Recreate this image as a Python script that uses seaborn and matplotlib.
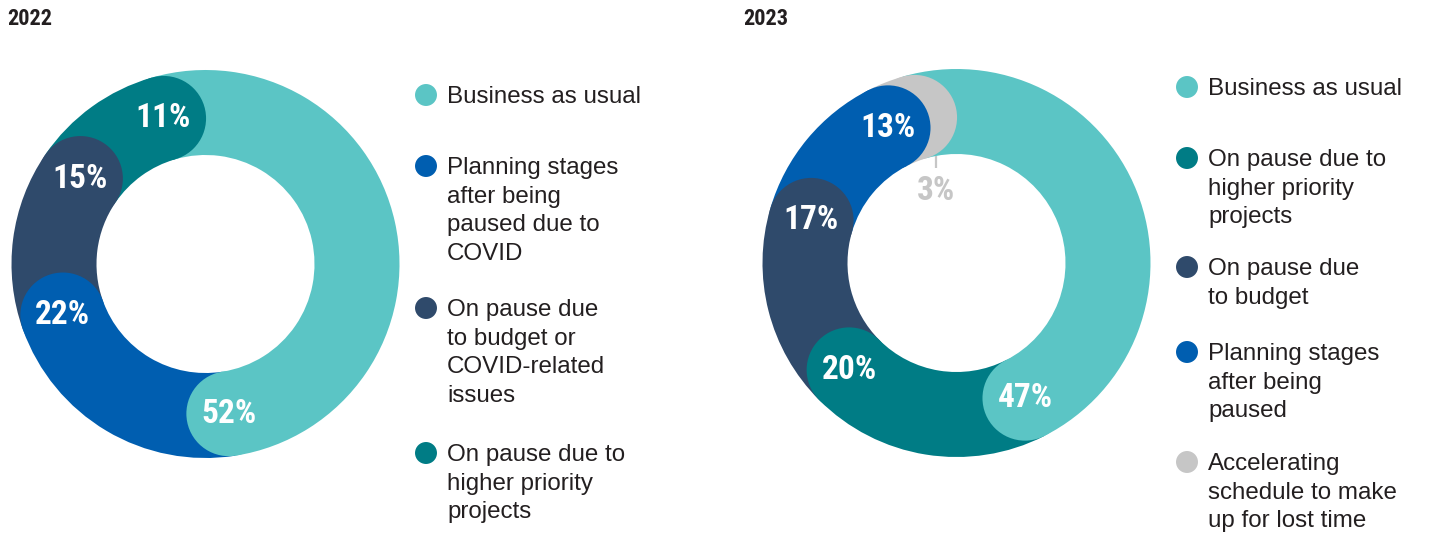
import numpy as np
import matplotlib
matplotlib.use("Agg")
import matplotlib.pyplot as plt
from matplotlib import font_manager as fm
from matplotlib.patches import Circle
import pandas as pd
import seaborn as sns

# ---- data -------------------------------------------------------------
years = ["2022", "2023"]

cats_2022 = [
    "Business as usual",
    "Planning stages\nafter being\npaused due to\nCOVID",
    "On pause due\nto budget or\nCOVID-related\nissues",
    "On pause due to\nhigher priority\nprojects",
]
vals_2022 = [52, 22, 15, 11]

cats_2023 = [
    "Business as usual",
    "On pause due to\nhigher priority\nprojects",
    "On pause due\nto budget",
    "Planning stages\nafter being\npaused",
    "Accelerating\nschedule to make\nup for lost time",
]
vals_2023 = [47, 20, 17, 13, 3]

# colour of each status
LIGHT_TEAL = "#5BC5C5"
BLUE = "#005EB0"
NAVY = "#2F4A6B"
DARK_TEAL = "#007C85"
GREY = "#C6C6C6"
colors_2022 = [LIGHT_TEAL, BLUE, NAVY, DARK_TEAL]
colors_2023 = [LIGHT_TEAL, DARK_TEAL, NAVY, BLUE, GREY]

# ---- style ------------------------------------------------------------
sns.set_theme(style="white")
plt.rcParams["font.family"] = ["Liberation Sans", "DejaVu Sans"]
TEXT_DARK = "#231F20"


def condensed_bold():
    """Pick a bold narrow face for the headline numbers."""
    fonts = fm.fontManager.ttflist

    def is_bold(f):
        w = f.weight
        return (w >= 700) if isinstance(w, int) else ("bold" in str(w).lower())

    def plain(f):
        return "italic" not in str(f.style).lower() and "oblique" not in str(f.style).lower()

    wanted = ["Liberation Sans Narrow", "Roboto Condensed", "Open Sans Condensed"]
    for name in wanted:
        for f in fonts:
            if f.name == name and is_bold(f) and plain(f):
                return fm.FontProperties(fname=f.fname)
    for f in fonts:
        if f.name.startswith("Roboto") and "condensed" in str(f.stretch) and is_bold(f) and plain(f):
            return fm.FontProperties(fname=f.fname)
    for f in fonts:
        if ("Condensed" in f.name or "Narrow" in f.name) and not f.name.startswith("DejaVu") \
                and is_bold(f) and plain(f):
            return fm.FontProperties(fname=f.fname)
    for f in fonts:
        if f.name.startswith("DejaVu Sans") and "condensed" in str(f.stretch) and is_bold(f) and plain(f):
            return fm.FontProperties(fname=f.fname)
    return fm.FontProperties(family="Liberation Sans", weight="bold")


NARROW_FP = condensed_bold()


def narrow(size):
    fp = NARROW_FP.copy()
    fp.set_size(size)
    return fp


W_PX, H_PX = 1430, 535
fig = plt.figure(figsize=(W_PX / 100, H_PX / 100), dpi=100)
fig.patch.set_facecolor("white")

# full-figure overlay in pixel units for titles and legends
bg = fig.add_axes([0, 0, 1, 1])
bg.set_xlim(0, W_PX)
bg.set_ylim(H_PX, 0)
bg.axis("off")

RING = 85 / 194           # ring thickness relative to outer radius
R_IN = 1 - RING
R_MID = 1 - RING / 2
CAP = RING / 2


def donut(center, radius, values, colors):
    cx, cy = center
    ax = fig.add_axes([(cx - radius) / W_PX, (H_PX - cy - radius) / H_PX,
                       2 * radius / W_PX, 2 * radius / H_PX])
    delta = np.degrees(CAP / R_MID)
    ax.pie(values, colors=colors, startangle=90 + delta, counterclock=False,
           radius=1, wedgeprops=dict(width=RING, linewidth=0, antialiased=True))
    frac = np.asarray(values, dtype=float) / np.sum(values)
    ends = np.cumsum(frac) * 360 - delta          # clockwise from 12 o'clock
    starts = np.concatenate([[0], np.cumsum(frac)[:-1]]) * 360
    # rounded caps, later segments underneath earlier ones
    for i in reversed(range(len(values))):
        th = np.radians(90 - ends[i])
        ax.add_patch(Circle((R_MID * np.cos(th), R_MID * np.sin(th)), CAP,
                            facecolor=colors[i], edgecolor="none", zorder=3))
    for i, v in enumerate(values):
        th = np.radians(90 - ends[i])
        if v >= 5:
            ax.text(R_MID * np.cos(th), R_MID * np.sin(th), f"{v}%",
                    ha="center", va="center", color="white",
                    fontproperties=narrow(24), zorder=5)
        else:
            ts = np.radians(90 - starts[i])
            x0, y0 = R_IN * np.cos(ts), R_IN * np.sin(ts)
            ax.plot([x0, x0], [y0, y0 - 0.06], color=colors[i], lw=1.6,
                    solid_capstyle="butt", zorder=5)
            ax.text(x0, y0 - 0.18, f"{v}%", ha="center", va="center",
                    color=colors[i], fontproperties=narrow(24), zorder=5)
    ax.set_xlim(-1, 1)
    ax.set_ylim(-1, 1)
    ax.set_aspect("equal")
    ax.axis("off")
    return ax


def legend(x_dot, x_text, item_y, line_step, cats, colors):
    df = pd.DataFrame({"x": [x_dot] * len(cats), "y": item_y, "cat": cats})
    sns.scatterplot(data=df, x="x", y="y", hue="cat", palette=colors,
                    s=250, linewidth=0, legend=False, ax=bg, zorder=4)
    for y, label in zip(item_y, cats):
        for k, line in enumerate(label.split("\n")):
            bg.text(x_text, y + 8.4 + k * line_step, line, ha="left",
                    va="baseline", fontsize=17.4, color=TEXT_DARK)


# ---- 2022 -------------------------------------------------------------
bg.text(7, 25, years[0], fontproperties=narrow(16), color=TEXT_DARK,
        ha="left", va="baseline")
donut((205.5, 264), 194, vals_2022, colors_2022)
legend(426, 447, [95, 166, 308, 453], 28.5, cats_2022, colors_2022)

# ---- 2023 -------------------------------------------------------------
bg.text(743, 25, years[1], fontproperties=narrow(16), color=TEXT_DARK,
        ha="left", va="baseline")
donut((956.5, 263), 194, vals_2023, colors_2023)
legend(1187, 1208, [87, 158, 267, 352, 462], 28.2, cats_2023, colors_2023)

bg.set_xlim(0, W_PX)
bg.set_ylim(H_PX, 0)
bg.axis("off")

fig.savefig("out.png", dpi=100, facecolor="white")
